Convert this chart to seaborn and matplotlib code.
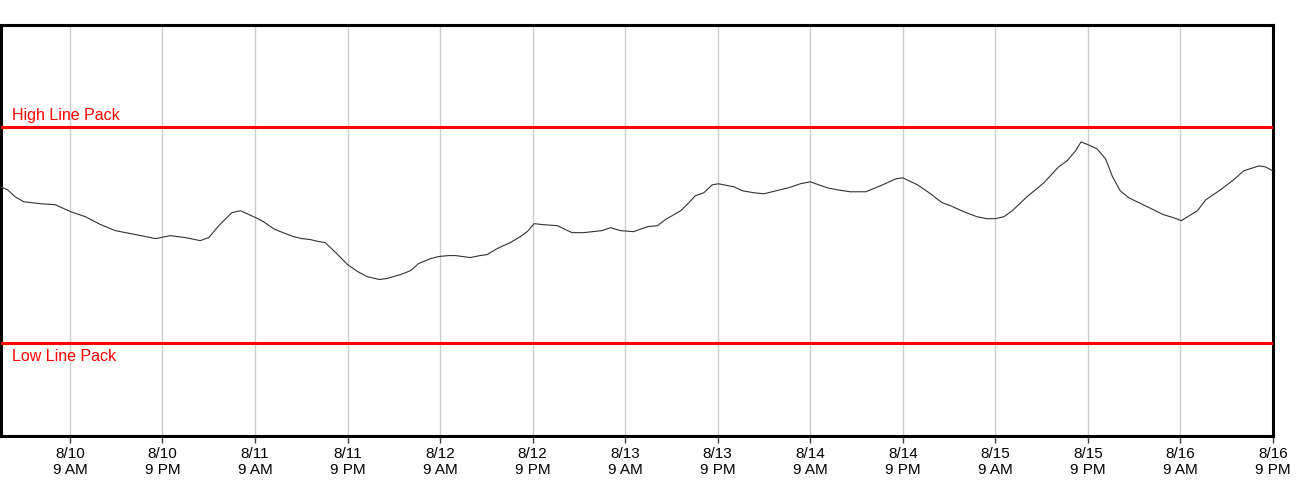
import numpy as np
import pandas as pd
import seaborn as sns
import matplotlib.dates as mdates
from matplotlib import pyplot as plt
from matplotlib.ticker import FuncFormatter

sns.set_style("white")
plt.rcParams['font.family'] = ['Liberation Sans', 'DejaVu Sans']

# hours after 8/10 00:00 and line pack value
hours = [0, 0.9, 1.9, 3.0, 5.2, 7.1, 9.1, 11.0, 13.0, 14.9, 16.9, 18.2, 20.1, 22.0, 24.0,
         25.9, 27.0, 28.3, 30.0, 31.1, 33.1, 34.1, 35.4, 36.3, 38.0, 39.1, 40.2, 41.3,
         42.1, 43.2, 45.0, 46.3, 47.5, 49.1, 50.1, 51.9, 53.2, 54.2, 55.8, 56.8, 58.1,
         59.0, 60.9, 62.2, 63.1, 64.4, 66.1, 67.4, 68.3, 69.2, 70.4, 72.2, 74.1, 75.6,
         78.0, 79.1, 80.4, 82.1, 83.9, 85.2, 86.2, 88.2, 89.0, 90.1, 91.2, 92.3, 93.1,
         95.1, 96.2, 97.7, 99.0, 101.1, 102.2, 103.7, 105.0, 107.2, 108.5, 110.2, 112.2,
         114.1, 116.1, 117.0, 118.9, 120.6, 122.1, 123.2, 124.9, 126.6, 127.9, 129.0,
         130.1, 131.2, 133.1, 135.3, 137.2, 138.3, 139.4, 140.1, 141.1, 142.2, 143.3,
         144.2, 145.2, 146.3, 148.7, 150.8, 152.1, 153.1, 155.2, 156.3, 158.2, 159.9,
         161.2, 163.2, 164.0, 165.0]
line_pack = [1157, 1154, 1147, 1142, 1140, 1139, 1132, 1127, 1119, 1113, 1110, 1108, 1105,
             1108, 1106, 1103, 1106, 1118, 1131, 1133, 1126, 1122, 1115, 1112, 1107, 1105,
             1104, 1102, 1101, 1093, 1079, 1072, 1067, 1064, 1065, 1069, 1073, 1080, 1085,
             1087, 1088, 1088, 1086, 1088, 1089, 1095, 1101, 1107, 1112, 1120, 1119, 1118,
             1111, 1111, 1113, 1116, 1113, 1112, 1117, 1118, 1124, 1133, 1139, 1148, 1151,
             1159, 1160, 1157, 1153, 1151, 1150, 1154, 1156, 1160, 1162, 1156, 1154, 1152,
             1152, 1158, 1165, 1166, 1159, 1150, 1141, 1138, 1132, 1127, 1125, 1125, 1127,
             1133, 1147, 1161, 1177, 1183, 1193, 1202, 1199, 1195, 1185, 1167, 1153, 1146,
             1137, 1129, 1126, 1123, 1133, 1144, 1154, 1164, 1173, 1178, 1177, 1173]
high_line_pack = 1217
low_line_pack = 1000

start = pd.Timestamp('2024-08-10 00:00')
df = pd.DataFrame({'time': start + pd.to_timedelta(hours, unit='h'), 'pack': line_pack})

fig = plt.figure(figsize=(13, 5), dpi=100)
ax = fig.add_axes([0.0004, 0.128, 0.9788, 0.8214])

ax.axhline(high_line_pack, color='red', lw=2.2, zorder=3)
ax.axhline(low_line_pack, color='red', lw=2.2, zorder=3)
sns.lineplot(data=df, x='time', y='pack', color='#333333', lw=0.8, ax=ax, zorder=4)

ax.set_xlim(start, start + pd.Timedelta(hours=165))
ax.set_ylim(907, 1319)

ax.xaxis.set_major_locator(mdates.HourLocator(byhour=[9, 21]))


def fmt(x, pos):
    d = mdates.num2date(x)
    h = d.hour % 12 or 12
    return f"{d.month}/{d.day}\n{h} {'AM' if d.hour < 12 else 'PM'}"


ax.xaxis.set_major_formatter(FuncFormatter(fmt))
ax.grid(axis='x', color='#cccccc', lw=1)
ax.set_yticks([])
ax.set_xlabel('')
ax.set_ylabel('')
ax.tick_params(axis='x', bottom=True, length=5, width=1, color='#444444',
               labelsize=11, pad=3, labelcolor='black')
for s in ax.spines.values():
    s.set_linewidth(2.2)
    s.set_color('black')

ax.annotate('High Line Pack', xy=(0, high_line_pack), xycoords=('axes fraction', 'data'),
            xytext=(8, 5), textcoords='offset points', color='red', fontsize=11.5,
            va='baseline', ha='left')
ax.annotate('Low Line Pack', xy=(0, low_line_pack), xycoords=('axes fraction', 'data'),
            xytext=(8, -12.7), textcoords='offset points', color='red', fontsize=11.5,
            va='baseline', ha='left')

plt.savefig('out.png', dpi=100)
